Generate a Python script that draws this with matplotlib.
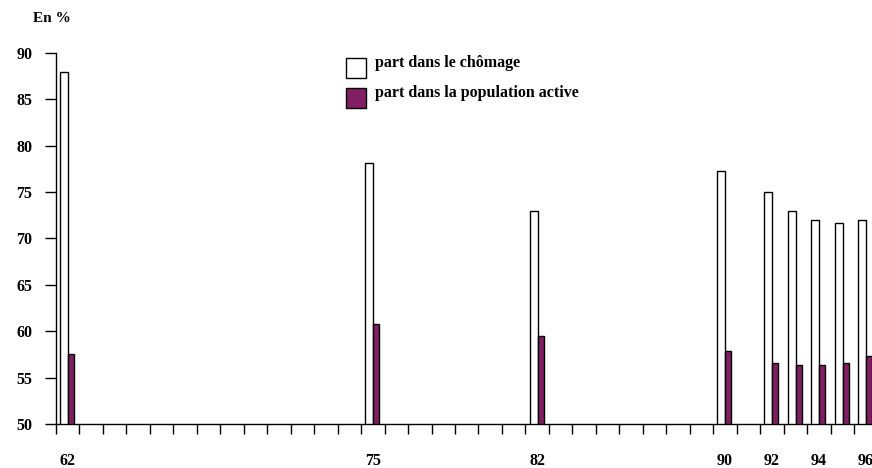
import matplotlib
matplotlib.use('Agg')
import matplotlib.pyplot as plt
from matplotlib.patches import Rectangle
import numpy as np

# ---- data ----
years = list(range(62, 97))                       # one slot per year
bar_years = [62, 75, 82, 90, 92, 93, 94, 95, 96]
part_chomage = [87.9, 78.1, 73.0, 77.3, 75.0, 73.0, 71.95, 71.7, 71.95]
part_active = [57.5, 60.8, 59.5, 57.9, 56.6, 56.4, 56.4, 56.6, 57.3]
labelled_years = [62, 75, 82, 90, 92, 94, 96]
y_ticks = [50, 55, 60, 65, 70, 75, 80, 85, 90]
legend_labels = ["part dans le chômage", "part dans la population active"]

PURPLE = '#801F63'
FONT = ['Liberation Serif', 'DejaVu Serif']

W, H = 872, 468
fig = plt.figure(figsize=(W / 100, H / 100), dpi=100)

def fx(px):
    return px / W

def fy(py):
    return 1 - py / H

ax_left, ax_right = 56, 56 + 35 * 23.47
ax_top, ax_bottom = 52.7, 424
ax = fig.add_axes([fx(ax_left), fy(ax_bottom), fx(ax_right - ax_left), (ax_bottom - ax_top) / H])

idx = np.array([years.index(y) for y in bar_years])
ax.bar(idx - 0.15, part_chomage, width=0.34, color='white', edgecolor='black', linewidth=1.0, zorder=2)
ax.bar(idx + 0.15, part_active, width=0.26, color=PURPLE, edgecolor='black', linewidth=1.0, zorder=2)

ax.set_xlim(-0.5, len(years) - 0.5)
ax.set_ylim(50, 90)

for s in ['top', 'right']:
    ax.spines[s].set_visible(False)
for s in ['left', 'bottom']:
    ax.spines[s].set_linewidth(1.0)
    ax.spines[s].set_color('black')

ax.set_yticks(y_ticks)
ax.set_yticklabels([str(v) for v in y_ticks], fontfamily=FONT, fontweight='bold', fontsize=11.5)
ax.tick_params(axis='y', length=7.9, width=1.0, direction='out', pad=9, colors='black')

ax.set_xticks([i - 0.5 for i in range(len(years) + 1)])
ax.set_xticklabels([])
ax.tick_params(axis='x', which='major', length=7.2, width=1.0, direction='out', colors='black')
ax.set_xticks([years.index(y) for y in labelled_years], minor=True)
ax.set_xticklabels([str(y) for y in labelled_years], minor=True,
                   fontfamily=FONT, fontweight='bold', fontsize=11.5)
ax.tick_params(axis='x', which='minor', length=0, pad=21)

# "En %"
fig.text(fx(33), fy(19), "En %", fontfamily=FONT, fontweight='bold', fontsize=11,
         ha='left', va='center')

# legend
for (top, color, label) in [(58, 'white', legend_labels[0]), (88, PURPLE, legend_labels[1])]:
    fig.patches.append(Rectangle((fx(346), fy(top + 20)), fx(20), 20 / H, transform=fig.transFigure,
                                 facecolor=color, edgecolor='black', linewidth=1.0))
    fig.text(fx(375), fy(top + 5), label, fontfamily=FONT, fontweight='bold', fontsize=11.5,
             ha='left', va='center')

fig.savefig('out.png', dpi=100)
